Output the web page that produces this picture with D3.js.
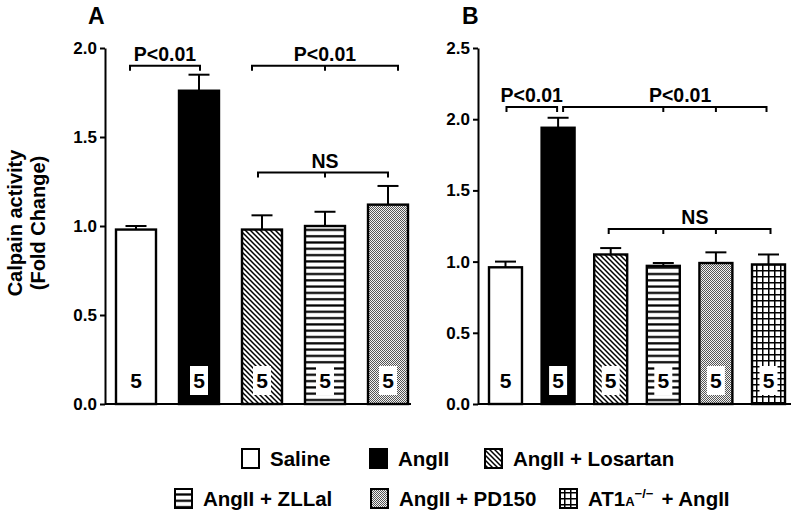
<!DOCTYPE html>
<html>
<head>
<meta charset="utf-8">
<script src="https://cdn.jsdelivr.net/npm/d3@7"></script>
<style>
  body { margin: 0; background: #fff; }
  svg { display: block; font-family: Arial, "Liberation Sans", Helvetica, sans-serif; font-weight: bold; }
</style>
</head>
<body>
<svg id="chart" width="800" height="516"></svg>
<script>
// ---- data ----
const categoriesA = ["Saline", "AngII", "AngII + Losartan", "AngII + ZLLal", "AngII + PD150"];
const valuesA = [0.98, 1.76, 0.98, 1.00, 1.12];
const errorsA = [0.02, 0.09, 0.08, 0.08, 0.105];
const nA = [5, 5, 5, 5, 5];
const ticksA = [0.0, 0.5, 1.0, 1.5, 2.0];

const categoriesB = ["Saline", "AngII", "AngII + Losartan", "AngII + ZLLal", "AngII + PD150", "AT1a-/- + AngII"];
const valuesB = [0.96, 1.94, 1.05, 0.97, 0.99, 0.98];
const errorsB = [0.04, 0.07, 0.045, 0.02, 0.075, 0.07];
const nB = [5, 5, 5, 5, 5, 5];
const ticksB = [0.0, 0.5, 1.0, 1.5, 2.0, 2.5];

const fills = ["white", "black", "url(#pDiag)", "url(#pHoriz)", "url(#pDots)", "url(#pGrid)"];

// brackets: from/to category index, y value, label, label position (index units), mid tick indices, end offsets
const bracketsA = [
  {from: 0, to: 1, y: 1.9, label: "P<0.01", at: 0.46, mids: [], o0: -6, o1: 1},
  {from: 2, to: 4, y: 1.9, label: "P<0.01", at: 3.0, mids: [3], o0: -10, o1: 10},
  {from: 2, to: 4, y: 1.30, label: "NS", at: 3.0, mids: [3], o0: -4, o1: 0}
];
const bracketsB = [
  {from: 0, to: 1, y: 2.086, label: "P<0.01", at: 0.5, mids: [], o0: 1, o1: -1},
  {from: 1, to: 5, y: 2.086, label: "P<0.01", at: 3.32, mids: [3, 4], o0: 5, o1: -2},
  {from: 2, to: 5, y: 1.229, label: "NS", at: 3.6, mids: [3, 4], o0: -2, o1: 2}
];

const legendRow1 = [
  {label: "Saline", fill: 0, x: 241},
  {label: "AngII", fill: 1, x: 369},
  {label: "AngII + Losartan", fill: 2, x: 484}
];
const legendRow2 = [
  {label: "AngII + ZLLal", fill: 3, x: 174},
  {label: "AngII + PD150", fill: 4, x: 370},
  {label: "AT1A", fill: 5, x: 559}
];

// ---- drawing ----
const svg = d3.select("#chart");
const defs = svg.append("defs");

const pd = defs.append("pattern").attr("id", "pDiag").attr("patternUnits", "userSpaceOnUse")
  .attr("width", 5).attr("height", 5);
pd.append("rect").attr("width", 5).attr("height", 5).attr("fill", "white");
pd.append("path").attr("d", "M-1,-1 L6,6 M-1,4 L1,6 M4,-1 L6,1")
  .attr("stroke", "black").attr("stroke-width", 1.5);

const ph = defs.append("pattern").attr("id", "pHoriz").attr("patternUnits", "userSpaceOnUse")
  .attr("width", 6).attr("height", 6.3);
ph.append("rect").attr("width", 6).attr("height", 6.3).attr("fill", "white");
ph.append("rect").attr("y", 2).attr("width", 6).attr("height", 2.2).attr("fill", "black");

const pdo = defs.append("pattern").attr("id", "pDots").attr("patternUnits", "userSpaceOnUse")
  .attr("width", 2).attr("height", 2);
pdo.append("rect").attr("width", 2).attr("height", 2).attr("fill", "#f2f2f2");
pdo.append("rect").attr("width", 1).attr("height", 1).attr("fill", "#555");
pdo.append("rect").attr("x", 1).attr("y", 1).attr("width", 1).attr("height", 1).attr("fill", "#555");

const pg = defs.append("pattern").attr("id", "pGrid").attr("patternUnits", "userSpaceOnUse")
  .attr("width", 6).attr("height", 6);
pg.append("rect").attr("width", 6).attr("height", 6).attr("fill", "white");
pg.append("path").attr("d", "M0.75,0 V6 M0,0.75 H6").attr("stroke", "black").attr("stroke-width", 1.5);

function panel(cfg) {
  const g = svg.append("g");
  const y = d3.scaleLinear().domain(cfg.domain).range([404, 48]);
  const x = d3.scaleBand().domain(cfg.cats).range(cfg.barRange).paddingInner(cfg.pad).paddingOuter(0);
  const bw = x.bandwidth();
  const cx = i => x(cfg.cats[i]) + bw / 2;

  const ax = g.append("g").attr("transform", `translate(${cfg.axisX},0)`)
    .call(d3.axisLeft(y).tickValues(cfg.ticks).tickFormat(d3.format(".1f")).tickSize(5).tickSizeOuter(0).tickPadding(3));
  ax.select(".domain").attr("stroke-width", 2);
  ax.selectAll(".tick line").attr("stroke-width", 2);
  ax.selectAll(".tick text").attr("font-size", 17).attr("font-weight", "bold")
    .attr("font-family", "Arial, 'Liberation Sans', sans-serif").attr("fill", "black");

  cfg.vals.forEach((v, i) => {
    const top = y(v + cfg.errs[i]);
    g.append("line").attr("x1", cx(i)).attr("x2", cx(i)).attr("y1", y(v)).attr("y2", top)
      .attr("stroke", "black").attr("stroke-width", 2);
    g.append("line").attr("x1", cx(i) - 10.5).attr("x2", cx(i) + 10.5).attr("y1", top).attr("y2", top)
      .attr("stroke", "black").attr("stroke-width", 2);
  });

  g.selectAll("rect.bar").data(cfg.vals).join("rect").attr("class", "bar")
    .attr("x", (d, i) => x(cfg.cats[i]) + 1)
    .attr("width", bw - 2)
    .attr("y", d => y(d))
    .attr("height", d => y(0) - y(d))
    .attr("fill", (d, i) => fills[i])
    .attr("stroke", "black").attr("stroke-width", 2.4);

  cfg.ns.forEach((n, i) => {
    g.append("rect").attr("x", cx(i) - 9).attr("y", 366).attr("width", 18).attr("height", 29).attr("fill", "white");
    g.append("text").attr("x", cx(i)).attr("y", 388).attr("text-anchor", "middle")
      .attr("font-size", 21).text(n);
  });

  g.append("line").attr("x1", cfg.axisX).attr("x2", cfg.baseEnd).attr("y1", y(0)).attr("y2", y(0))
    .attr("stroke", "black").attr("stroke-width", 2);

  const pos = idx => cfg.barRange[0] + bw / 2 + idx * x.step();
  cfg.brackets.forEach(b => {
    const yy = y(b.y);
    const x0 = cx(b.from) + b.o0, x1 = cx(b.to) + b.o1;
    let d = `M${x0},${yy + 5} V${yy} H${x1} V${yy + 5}`;
    b.mids.forEach(m => { d += ` M${cx(m)},${yy} V${yy + 5}`; });
    g.append("path").attr("d", d).attr("fill", "none").attr("stroke", "black").attr("stroke-width", 2);
    g.append("text").attr("x", pos(b.at)).attr("y", yy - 5).attr("text-anchor", "middle")
      .attr("font-size", 19.5).text(b.label);
  });

  g.append("text").attr("x", cfg.letterX).attr("y", 24).attr("font-size", 23).text(cfg.letter);
}

panel({cats: categoriesA, vals: valuesA, errs: errorsA, ns: nA, ticks: ticksA, domain: [0, 2],
  barRange: [115, 409], pad: 1 / 3, axisX: 105, baseEnd: 411, brackets: bracketsA, letter: "A", letterX: 88});
panel({cats: categoriesB, vals: valuesB, errs: errorsB, ns: nB, ticks: ticksB, domain: [0, 2.5],
  barRange: [488, 786], pad: 0.335, axisX: 478, baseEnd: 791, brackets: bracketsB, letter: "B", letterX: 462});

const yt = svg.append("g").attr("transform", "translate(0,223) rotate(-90)");
yt.append("text").attr("x", 0).attr("y", 22).attr("text-anchor", "middle").attr("font-size", 20).text("Calpain activity");
yt.append("text").attr("x", 0).attr("y", 45).attr("text-anchor", "middle").attr("font-size", 20).text("(Fold Change)");

function legendRow(items, yBox) {
  items.forEach(it => {
    svg.append("rect").attr("x", it.x + 1).attr("y", yBox + 1).attr("width", 17).attr("height", 19)
      .attr("fill", fills[it.fill]).attr("stroke", "black").attr("stroke-width", 2);
    const t = svg.append("text").attr("x", it.x + 29).attr("y", yBox + 18).attr("font-size", 20.5);
    if (it.label === "AT1A") {
      t.append("tspan").text("AT1");
      t.append("tspan").attr("font-size", 13).text("A");
      t.append("tspan").attr("font-size", 13).attr("dy", -8).text("\u2212/\u2212");
      t.append("tspan").attr("dy", 8).attr("dx", 8).text("+ AngII");
    } else {
      t.text(it.label);
    }
  });
}
legendRow(legendRow1, 448);
legendRow(legendRow2, 488);
</script>
</body>
</html>
